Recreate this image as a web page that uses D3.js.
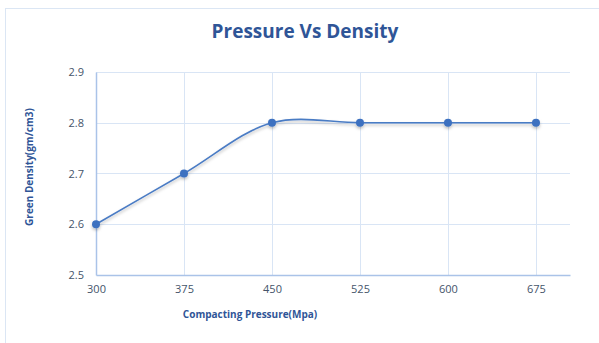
<!DOCTYPE html>
<html>
<head>
<meta charset="utf-8">
<script src="https://cdn.jsdelivr.net/npm/d3@7"></script>
<style>
  html, body { margin: 0; padding: 0; background: #fff; }
  svg { display: block; }
</style>
</head>
<body>
<svg id="chart" width="599" height="343"></svg>
<script>
// Compacting pressure (MPa) vs green density (g/cm3)
const pressures = [300, 375, 450, 525, 600, 675];
const densities = [2.6, 2.7, 2.8, 2.8, 2.8, 2.8];
const xTicks = [300, 375, 450, 525, 600, 675];
const yTicks = [2.5, 2.6, 2.7, 2.8, 2.9];

const svg = d3.select("#chart");
const font = "'Open Sans', 'Noto Sans', sans-serif";
const labelColor = "#44546a";
const titleColor = "#2f5597";

// chart frame
svg.append("rect")
  .attr("x", 5.5).attr("y", 8.5)
  .attr("width", 620).attr("height", 360)
  .attr("fill", "none").attr("stroke", "#dbe6f4").attr("stroke-width", 1);

const plot = { left: 96, right: 570, top: 72, bottom: 275 };

const x = d3.scaleLinear().domain([300, 704]).range([plot.left, plot.right]);
const y = d3.scaleLinear().domain([2.5, 2.9]).range([plot.bottom, plot.top]);

// gridlines
const grid = svg.append("g");
grid.selectAll("line.h").data(yTicks.filter(v => v > 2.5)).join("line")
  .attr("x1", plot.left).attr("x2", plot.right)
  .attr("y1", d => Math.round(y(d)) + 0.5).attr("y2", d => Math.round(y(d)) + 0.5)
  .attr("stroke", "#d9e5f5").attr("stroke-width", 1);
grid.selectAll("line.v").data(xTicks.filter(v => v > 300)).join("line")
  .attr("y1", plot.top).attr("y2", plot.bottom)
  .attr("x1", d => Math.round(x(d)) + 0.5).attr("x2", d => Math.round(x(d)) + 0.5)
  .attr("stroke", "#d9e5f5").attr("stroke-width", 1);

// axes
const xAxis = svg.append("g")
  .attr("transform", `translate(0,${plot.bottom})`)
  .call(d3.axisBottom(x).tickValues(xTicks).tickSize(0).tickPadding(10).tickFormat(d3.format("d")));
xAxis.select(".domain").attr("stroke", "#aac3e8").attr("stroke-width", 1.5);

const yAxis = svg.append("g")
  .attr("transform", `translate(${plot.left},0)`)
  .call(d3.axisLeft(y).tickValues(yTicks).tickSize(0).tickPadding(12).tickFormat(d3.format(".1f")));
yAxis.select(".domain").attr("stroke", "#aac3e8").attr("stroke-width", 1.5);

[xAxis, yAxis].forEach(a => a.selectAll("text")
  .attr("fill", labelColor).style("font-family", font).style("font-size", "11px"));

// smoothed series line with soft shadow
const defs = svg.append("defs");
const shadow = defs.append("filter").attr("id", "shadow")
  .attr("x", "-10%").attr("y", "-50%").attr("width", "120%").attr("height", "200%");
shadow.append("feDropShadow").attr("dx", 0).attr("dy", 2).attr("stdDeviation", 1.5)
  .attr("flood-color", "#000").attr("flood-opacity", 0.25);

const line = d3.line()
  .x((d, i) => x(pressures[i]))
  .y(d => y(d))
  .curve(d3.curveCatmullRom.alpha(0.5));

const series = svg.append("g").attr("filter", "url(#shadow)");
series.append("path")
  .datum(densities)
  .attr("d", line)
  .attr("fill", "none").attr("stroke", "#4a7bc4").attr("stroke-width", 1.6);

series.selectAll("circle").data(densities).join("circle")
  .attr("cx", (d, i) => x(pressures[i]))
  .attr("cy", d => y(d))
  .attr("r", 4)
  .attr("fill", "#3e71c0");

// titles
svg.append("text")
  .attr("x", 305).attr("y", 38)
  .attr("text-anchor", "middle")
  .attr("fill", titleColor)
  .style("font-family", font).style("font-size", "19px").style("font-weight", "bold")
  .text("Pressure Vs Density");

svg.append("text")
  .attr("x", 250).attr("y", 318)
  .attr("text-anchor", "middle")
  .attr("fill", titleColor)
  .style("font-family", font).style("font-size", "10px").style("font-weight", "bold")
  .text("Compacting Pressure(Mpa)");

svg.append("text")
  .attr("transform", "translate(33,167) rotate(-90)")
  .attr("text-anchor", "middle")
  .attr("fill", titleColor)
  .style("font-family", font).style("font-size", "10px").style("font-weight", "bold")
  .text("Green Density(gm/cm3)");
</script>
</body>
</html>
